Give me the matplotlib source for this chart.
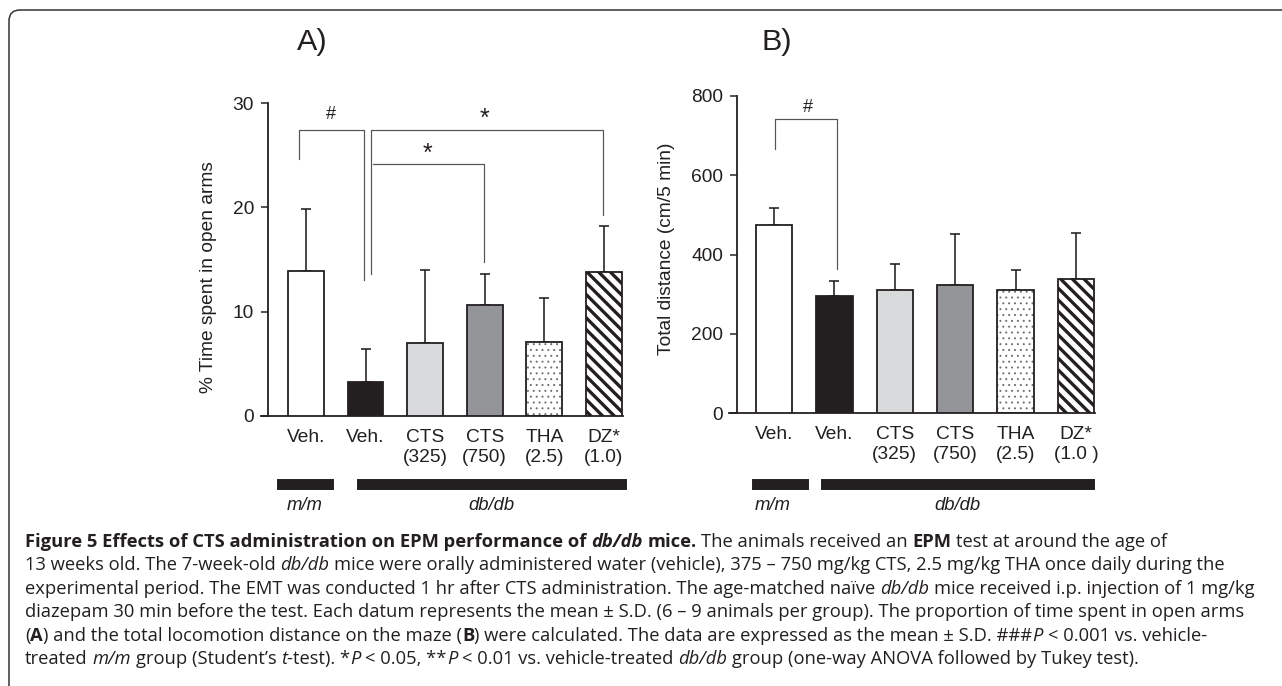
import matplotlib
matplotlib.use("Agg")
import matplotlib.pyplot as plt
from matplotlib import transforms
from matplotlib.patches import Rectangle, FancyBboxPatch

DPI = 140
W, H = 1282, 686
INK = "#231f20"
CHART_FONT = "Liberation Sans"
CAP_FONT = "Open Sans"


def pt(px):
    # pixel size -> points at this dpi
    return px * 72 / DPI


# ---- data ----
labels_a = ["Veh.", "Veh.", "CTS\n(325)", "CTS\n(750)", "THA\n(2.5)", "DZ*\n(1.0)"]
labels_b = ["Veh.", "Veh.", "CTS\n(325)", "CTS\n(750)", "THA\n(2.5)", "DZ*\n(1.0 )"]
open_arms = [13.9, 3.3, 7.0, 10.6, 7.1, 13.8]
open_arms_sd = [5.9, 3.1, 7.0, 3.0, 4.2, 4.4]
distance = [475, 295, 310, 322, 311, 337]
distance_sd = [43, 37, 65, 130, 49, 118]
group_names = ["m/m", "db/db"]
group_members = [[0], [1, 2, 3, 4, 5]]

fills = ["white", INK, "#d9dadb", "#939598", "white", "white"]
hatches = [None, None, None, None, "....", "\\\\\\\\"]

plt.rcParams["font.family"] = [CHART_FONT, "DejaVu Sans"]
plt.rcParams["hatch.linewidth"] = 1.7

fig = plt.figure(figsize=(W / DPI, H / DPI), dpi=DPI)

# overlay in pixel coordinates for frame + caption
ov = fig.add_axes([0, 0, 1, 1])
ov.set_xlim(0, W)
ov.set_ylim(H, 0)
ov.axis("off")
ov.add_patch(FancyBboxPatch((9, 10), 1500, 900, boxstyle="round,pad=0,rounding_size=11",
                            fc="none", ec="#3c3c3c", lw=pt(1.6), clip_on=False))


def px_axes(left, top, right, bottom):
    return fig.add_axes([left / W, 1 - bottom / H, (right - left) / W, (bottom - top) / H])


def panel(ax, vals, sds, labels, xlim, spine_x, ymax, yticks):
    x = list(range(len(vals)))
    for i in x:
        if hatches[i] == "....":
            with plt.rc_context({"hatch.linewidth": 0.45}):
                b = ax.bar(i, vals[i], width=0.6, color="white", edgecolor="#6d6d6d",
                           hatch=hatches[i], linewidth=0, zorder=2)
                if hasattr(b[0], "set_hatch_linewidth"):
                    b[0].set_hatch_linewidth(0.45)
            ax.bar(i, vals[i], width=0.6, fill=False, edgecolor=INK, linewidth=pt(1.8), zorder=3)
        else:
            ax.bar(i, vals[i], width=0.6, color=fills[i], edgecolor=INK,
                   hatch=hatches[i], linewidth=pt(1.8), zorder=3)
    ax.errorbar(x, vals, yerr=[[0] * len(vals), sds], fmt="none", ecolor=INK,
                elinewidth=pt(1.6), capsize=pt(4.5), capthick=pt(1.6), zorder=1)
    ax.set_xlim(*xlim)
    ax.set_ylim(0, ymax)
    ax.set_yticks(yticks)
    ax.set_xticks(x, labels)
    for s in ["top", "right"]:
        ax.spines[s].set_visible(False)
    ax.spines["left"].set_position(("data", spine_x))
    ax.spines["left"].set_bounds(0, ymax)
    for s in ["left", "bottom"]:
        ax.spines[s].set_linewidth(pt(1.8))
        ax.spines[s].set_color(INK)
    ax.tick_params(axis="y", length=pt(7), width=pt(1.5), color=INK, pad=pt(7),
                   labelsize=pt(19.2), labelcolor=INK)
    ax.tick_params(axis="x", length=0, pad=pt(13), labelsize=pt(19.2), labelcolor=INK)
    for t in ax.get_xticklabels():
        t.set_linespacing(1.26)
    ax.patch.set_visible(False)


def bracket(ax, xl, xr, ytop, yl, yr, mark, mx, my, size):
    ax.plot([xl, xl, xr, xr], [yl, ytop, ytop, yr], color="#555555", lw=pt(1.2),
            clip_on=False, zorder=4)
    ax.text(mx, my, mark, ha="center", va="center", fontsize=pt(size), color=INK,
            clip_on=False)


def groups(ax, spans, bar_y, bar_h, label_y, label_x):
    tr = transforms.blended_transform_factory(ax.transData, ax.transAxes)
    for name, mem, (pl, pr), lx in zip(group_names, group_members, spans, label_x):
        x0 = mem[0] + pl
        x1 = mem[-1] + pr
        ax.add_patch(Rectangle((x0, bar_y), x1 - x0, bar_h, transform=tr, color=INK,
                               clip_on=False))
        ax.text(lx, label_y, name, transform=tr, ha="center", va="center",
                fontstyle="italic", fontsize=pt(18.5), color=INK)


# ---- panel A ----
axA = px_axes(261, 103, 623, 416)
panel(axA, open_arms, open_arms_sd, labels_a, (-0.755, 5.32), -0.638, 30, [0, 10, 20, 30])
axA.text(-0.146, 0.444, "% Time spent in open arms", transform=axA.transAxes, rotation=90,
         ha="center", va="center", fontsize=pt(19.2), color=INK)
bracket(axA, -0.12, 0.97, 27.4, 24.6, 13.0, "#", 0.42, 28.9, 18)
bracket(axA, 1.09, 4.98, 27.4, 13.6, 19.3, "*", 2.99, 28.5, 25)
bracket(axA, 1.12, 2.99, 24.2, 24.2, 14.8, "*", 2.04, 25.1, 25)
groups(axA, [(-0.47, 0.45), (-0.13, 0.37)], (416 - 489) / 313, 9 / 313,
       (416 - 506) / 313, [-0.02, 3.12])

# ---- panel B ----
axB = px_axes(729, 96, 1095, 413)
panel(axB, distance, distance_sd, labels_b, (-0.745, 5.315), -0.613, 800, [0, 200, 400, 600, 800])
axB.text(-0.172, 0.517, "Total distance (cm/5 min)", transform=axB.transAxes, rotation=90,
         ha="center", va="center", fontsize=pt(19.2), color=INK)
bracket(axB, 0.02, 1.04, 742, 666, 363, "#", 0.56, 772, 18)
groups(axB, [(-0.35, 0.56), (-0.2, 0.3)], (413 - 489) / 317, 9 / 317,
       (413 - 506) / 317, [-0.02, 3.03])

fig.text(312 / W, 1 - 42 / H, "A)", ha="center", va="center", fontsize=pt(30.5), color=INK)
fig.text(777 / W, 1 - 42 / H, "B)", ha="center", va="center", fontsize=pt(30.5), color=INK)

# ---- caption ----
caption = [
    [("Figure 5 Effects of CTS administration on EPM performance of ", "b"), ("db/db", "bi"),
     (" mice.", "b"), (" The animals received an ", ""), ("EPM", "b"),
     (" test at around the age of", "")],
    [("13 weeks old. The 7-week-old ", ""), ("db/db", "i"),
     (" mice were orally administered water (vehicle), 375 \u2013 750 mg/kg CTS, 2.5 mg/kg THA once daily during the", "")],
    [("experimental period. The EMT was conducted 1 hr after CTS administration. The age-matched na\u00efve ", ""),
     ("db/db", "i"), (" mice received i.p. injection of 1 mg/kg", "")],
    [("diazepam 30 min before the test. Each datum represents the mean \u00b1 S.D. (6 \u2013 9 animals per group). The proportion of time spent in open arms", "")],
    [("(", ""), ("A", "b"), (") and the total locomotion distance on the maze (", ""), ("B", "b"),
     (") were calculated. The data are expressed as the mean \u00b1 S.D. ###", ""), ("P", "i"),
     (" < 0.001 vs. vehicle-", "")],
    [("treated ", ""), ("m/m", "i"), (" group (Student\u2019s ", ""), ("t", "i"), ("-test). *", ""),
     ("P", "i"), (" < 0.05, **", ""), ("P", "i"), (" < 0.01 vs. vehicle-treated ", ""),
     ("db/db", "i"), (" group (one-way ANOVA followed by Tukey test).", "")],
]
cap_right = [1066, 1210, 1278, 1271, 1195, 1177]
cap_x0 = 25
cap_base = [547 + 23.4 * i for i in range(6)]

renderer = fig.canvas.get_renderer()


def style_kw(style, size):
    kw = dict(fontfamily=CAP_FONT, fontsize=size, color=INK, va="baseline", ha="left")
    if "b" in style:
        kw["fontweight"] = "bold"
    if "i" in style:
        kw["fontstyle"] = "italic"
    return kw


def space_w(size):
    a = ov.text(0, 0, "n n", **style_kw("", size))
    b = ov.text(0, 0, "nn", **style_kw("", size))
    w = a.get_window_extent(renderer).width - b.get_window_extent(renderer).width
    a.remove()
    b.remove()
    return w


def draw_line(segs, x0, y, size, keep=True):
    sw = space_w(size)
    x = x0
    made = []
    for text, style in segs:
        lead = len(text) - len(text.lstrip(" "))
        trail = len(text) - len(text.rstrip(" "))
        core = text.strip(" ")
        x += lead * sw
        if core:
            t = ov.text(x, y, core, **style_kw(style, size))
            x += t.get_window_extent(renderer).width
            made.append(t)
        x += trail * sw
    if not keep:
        for t in made:
            t.remove()
    return x


base = pt(19.5)
ratios = []
for segs, r in zip(caption[1:5], cap_right[1:5]):
    end = draw_line(segs, cap_x0, 0, base, keep=False)
    ratios.append((r - cap_x0) / (end - cap_x0))
ratios.sort()
cap_size = base * (ratios[1] + ratios[2]) / 2
for segs, y in zip(caption, cap_base):
    draw_line(segs, cap_x0, y, cap_size)

fig.savefig("out.png", dpi=DPI)
